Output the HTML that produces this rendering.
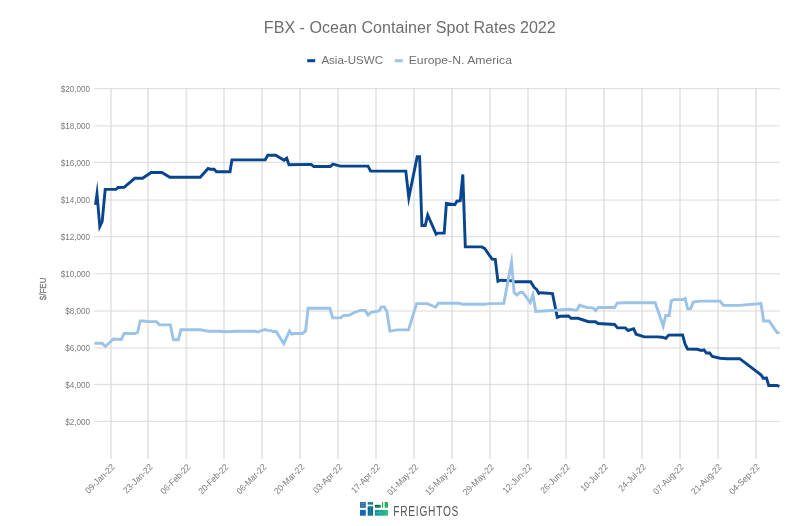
<!DOCTYPE html>
<html lang="en"><head><meta charset="utf-8"><title>FBX - Ocean Container Spot Rates 2022</title>
<style>html,body{margin:0;padding:0;background:#fff;}body{width:806px;height:526px;overflow:hidden;}svg{display:block;will-change:transform;}text{font-family:"Liberation Sans",sans-serif;}</style></head><body>
<svg width="806" height="526" viewBox="0 0 806 526">
<rect width="806" height="526" fill="#ffffff"/>
<text x="263.8" y="32.9" font-size="16" fill="#6e6e6e" textLength="292" lengthAdjust="spacingAndGlyphs">FBX - Ocean Container Spot Rates 2022</text>
<line x1="307.2" y1="60.7" x2="315.2" y2="60.7" stroke="#08458f" stroke-width="3"/>
<text x="321.4" y="64.2" font-size="11.6" fill="#707070" textLength="61.6" lengthAdjust="spacingAndGlyphs">Asia-USWC</text>
<line x1="394.8" y1="60.7" x2="402.8" y2="60.7" stroke="#9bc3e8" stroke-width="3"/>
<text x="408.7" y="64.2" font-size="11.6" fill="#707070" textLength="103.3" lengthAdjust="spacingAndGlyphs">Europe-N. America</text>
<g fill="#e9e9e9">
<rect x="110" y="88" width="2" height="371"/>
<rect x="147" y="88" width="2" height="371"/>
<rect x="185.4" y="88" width="2" height="371"/>
<rect x="223" y="88" width="2" height="371"/>
<rect x="261" y="88" width="2" height="371"/>
<rect x="299" y="88" width="2" height="371"/>
<rect x="337" y="88" width="2" height="371"/>
<rect x="375" y="88" width="2" height="371"/>
<rect x="413" y="88" width="2" height="371"/>
<rect x="451" y="88" width="2" height="371"/>
<rect x="489" y="88" width="2" height="371"/>
<rect x="527" y="88" width="2" height="371"/>
<rect x="565" y="88" width="2" height="371"/>
<rect x="603" y="88" width="2" height="371"/>
<rect x="641" y="88" width="2" height="371"/>
<rect x="679" y="88" width="2" height="371"/>
<rect x="717" y="88" width="2" height="371"/>
<rect x="755" y="88" width="2" height="371"/>
</g>
<g fill="#d7d7d7" fill-opacity="0.73">
<rect x="94" y="87.97" width="686" height="1.3"/>
<rect x="94" y="125.20" width="686" height="1.3"/>
<rect x="94" y="161.70" width="686" height="1.3"/>
<rect x="94" y="199.40" width="686" height="1.3"/>
<rect x="94" y="235.90" width="686" height="1.3"/>
<rect x="94" y="273.10" width="686" height="1.3"/>
<rect x="94" y="310.35" width="686" height="1.3"/>
<rect x="94" y="347.30" width="686" height="1.3"/>
<rect x="94" y="383.85" width="686" height="1.3"/>
<rect x="94" y="420.77" width="686" height="1.3"/>
</g>
<g font-size="9.6" fill="#7a7a7a" text-anchor="end">
<text x="90" y="91.5" textLength="29.2" lengthAdjust="spacingAndGlyphs">$20,000</text>
<text x="90" y="128.5" textLength="29.2" lengthAdjust="spacingAndGlyphs">$18,000</text>
<text x="90" y="165.5" textLength="29.2" lengthAdjust="spacingAndGlyphs">$16,000</text>
<text x="90" y="202.5" textLength="29.2" lengthAdjust="spacingAndGlyphs">$14,000</text>
<text x="90" y="239.5" textLength="29.2" lengthAdjust="spacingAndGlyphs">$12,000</text>
<text x="90" y="276.5" textLength="29.2" lengthAdjust="spacingAndGlyphs">$10,000</text>
<text x="90" y="313.5" textLength="24.7" lengthAdjust="spacingAndGlyphs">$8,000</text>
<text x="90" y="350.5" textLength="24.7" lengthAdjust="spacingAndGlyphs">$6,000</text>
<text x="90" y="387.5" textLength="24.7" lengthAdjust="spacingAndGlyphs">$4,000</text>
<text x="90" y="424.5" textLength="24.7" lengthAdjust="spacingAndGlyphs">$2,000</text>
</g>
<text transform="translate(46.3,288.9) rotate(-90)" font-size="9.9" fill="#7a7a7a" stroke="#7a7a7a" stroke-width="0.25" text-anchor="middle" textLength="22.6" lengthAdjust="spacingAndGlyphs">$/FEU</text>
<g font-size="9" fill="#7a7a7a" text-anchor="end">
<text transform="translate(115.2,467.6) rotate(-45) scale(0.923,1)">09-Jan-22</text>
<text transform="translate(153.2,467.6) rotate(-45) scale(0.923,1)">23-Jan-22</text>
<text transform="translate(191.1,467.6) rotate(-45) scale(0.923,1)">06-Feb-22</text>
<text transform="translate(229.1,467.6) rotate(-45) scale(0.923,1)">20-Feb-22</text>
<text transform="translate(267.0,467.6) rotate(-45) scale(0.923,1)">06-Mar-22</text>
<text transform="translate(304.9,467.6) rotate(-45) scale(0.923,1)">20-Mar-22</text>
<text transform="translate(342.9,467.6) rotate(-45) scale(0.923,1)">03-Apr-22</text>
<text transform="translate(380.8,467.6) rotate(-45) scale(0.923,1)">17-Apr-22</text>
<text transform="translate(418.8,467.6) rotate(-45) scale(0.923,1)">01-May-22</text>
<text transform="translate(456.7,467.6) rotate(-45) scale(0.923,1)">15-May-22</text>
<text transform="translate(494.6,467.6) rotate(-45) scale(0.923,1)">29-May-22</text>
<text transform="translate(532.6,467.6) rotate(-45) scale(0.923,1)">12-Jun-22</text>
<text transform="translate(570.5,467.6) rotate(-45) scale(0.923,1)">26-Jun-22</text>
<text transform="translate(608.5,467.6) rotate(-45) scale(0.923,1)">10-Jul-22</text>
<text transform="translate(646.4,467.6) rotate(-45) scale(0.923,1)">24-Jul-22</text>
<text transform="translate(684.3,467.6) rotate(-45) scale(0.923,1)">07-Aug-22</text>
<text transform="translate(722.3,467.6) rotate(-45) scale(0.923,1)">21-Aug-22</text>
<text transform="translate(760.2,467.6) rotate(-45) scale(0.923,1)">04-Sep-22</text>
</g>
<polyline fill="none" stroke="#08458f" stroke-width="2.9" stroke-linejoin="miter" stroke-miterlimit="10" points="95.5,204.9 97.0,193.9 99.8,226.5 102.2,221.3 105.2,189.4 116.1,189.4 118.1,187.5 124.1,187.3 134.7,178.3 142.6,178.3 151.1,172.5 161.9,172.5 169.8,177.3 200.2,177.3 208.1,168.5 210.1,169.2 214.1,169.2 216.5,171.8 230.0,171.8 231.9,159.9 265.2,159.8 267.8,155.2 275.7,155.2 284.1,160.2 286.7,158.2 289.0,164.7 311.1,164.4 313.8,166.5 330.3,166.5 332.9,164.1 340.2,166.1 368.0,166.1 370.6,171.1 405.8,171.1 408.8,197.7 417.2,156.8 419.6,156.8 421.9,225.5 425.2,225.5 427.7,215.0 436.1,234.2 437.9,233.1 444.2,233.1 446.4,203.3 454.8,204.6 457.0,201.2 460.3,200.8 462.8,174.5 465.3,246.9 481.7,246.9 484.6,248.4 492.1,259.2 495.3,259.4 497.9,281.2 500.8,280.2 512.0,280.8 513.5,281.7 530.6,281.7 534.3,287.6 536.6,289.4 538.8,293.4 541.0,292.7 552.5,293.6 557.3,317.3 560.2,316.3 568.4,316.0 571.1,318.3 578.1,318.3 588.5,321.7 595.5,321.7 598.2,323.5 614.6,324.5 617.5,327.9 625.3,327.9 628.2,330.5 633.6,328.7 636.1,334.2 644.3,336.9 657.7,336.9 662.2,337.2 665.9,338.4 668.6,335.1 682.6,334.9 685.1,344.1 687.6,349.0 697.0,349.3 701.5,350.4 704.0,349.8 706.4,353.0 709.7,353.0 712.3,356.5 720.1,358.2 726.8,358.7 739.7,358.7 761.2,375.0 763.2,378.3 766.5,378.0 768.7,385.5 777.1,385.5 779.4,386.5"/>
<polyline fill="none" stroke="#9bc3e8" stroke-width="2.9" stroke-linejoin="miter" stroke-miterlimit="10" points="94.4,343.2 102.3,343.2 105.3,346.5 113.4,339.0 121.4,339.4 124.1,333.5 134.7,333.5 137.6,332.5 140.2,321.0 143.6,321.0 148.6,321.6 156.5,321.6 159.5,324.9 170.4,324.9 173.4,339.7 178.3,339.7 180.9,329.8 200.2,329.8 208.1,331.2 219.0,331.2 227.0,331.8 234.9,331.2 254.9,331.2 257.5,332.0 264.8,329.5 267.8,330.4 271.2,330.6 272.8,331.5 276.1,331.5 283.8,343.6 289.5,330.9 291.6,334.1 294.5,333.5 302.4,333.5 305.6,330.9 308.1,308.2 329.9,308.2 332.7,317.9 340.8,317.9 343.6,315.4 348.8,315.4 353.2,313.0 360.1,310.4 365.1,310.4 368.0,315.0 371.0,312.4 379.0,311.0 381.3,307.0 384.3,307.0 386.9,311.6 389.9,331.1 396.9,329.9 408.5,329.9 416.6,303.6 427.4,303.6 435.6,307.3 438.3,303.3 459.4,303.3 462.4,304.2 484.0,304.2 490.0,303.6 503.8,303.4 511.5,262.2 514.1,292.6 516.8,295.0 519.6,292.6 522.7,292.2 530.2,302.7 532.9,294.8 535.8,311.4 555.9,310.3 562.4,309.8 569.9,309.3 574.4,310.1 577.0,310.1 579.4,305.3 587.0,307.5 593.0,307.8 595.5,310.5 598.2,307.5 614.6,307.5 617.2,303.1 625.0,302.8 655.2,302.8 663.2,326.0 665.7,315.5 669.2,315.5 671.3,300.7 673.7,299.6 682.9,299.6 685.1,298.4 687.6,308.8 690.6,308.8 693.3,302.0 700.0,301.1 720.1,301.1 723.4,305.4 739.4,305.4 761.0,303.5 763.6,321.0 769.2,321.0 777.0,332.6 779.6,332.6"/>
<defs><linearGradient id="lg" x1="0" x2="1" y1="0" y2="0"><stop offset="0" stop-color="#1590a8"/><stop offset="1" stop-color="#2fc57a"/></linearGradient></defs>
<g>
<rect x="360" y="502" width="5.8" height="5.8" fill="#2a69ae"/>
<rect x="360" y="509.9" width="5.8" height="5.8" fill="#1565c0"/>
<rect x="367.7" y="502.1" width="5.4" height="2.5" fill="#12808f"/>
<rect x="367.7" y="506.3" width="5.4" height="9.4" fill="#0f6f95"/>
<rect x="374.9" y="504.8" width="5.8" height="2.9" fill="#0f6b4a"/>
<rect x="382" y="502.1" width="1.1" height="5.6" fill="#1aa24f"/>
<rect x="384.6" y="502" width="3.4" height="5.7" fill="#25b35a"/>
<rect x="374.9" y="509.9" width="13.1" height="5.8" fill="url(#lg)"/>
<path d="M361 503.6h3.6M361 505.6h3.6" stroke="#8db3d9" stroke-width="0.7" opacity="0.7"/>
<path d="M370.4 507.3v7.4" stroke="#4aa0b8" stroke-width="0.7" opacity="0.7"/>
<path d="M375.6 506.25h4.4" stroke="#6fb79a" stroke-width="0.5" opacity="0.8"/>
<path d="M375.6 512.8h5.6" stroke="#9adbd0" stroke-width="0.5" opacity="0.7"/>
</g>
<text transform="translate(393.2,515.7) scale(0.7,1)" font-size="14.6" fill="#585858" textLength="93.2" lengthAdjust="spacing">FREIGHTOS</text>
</svg></body></html>
